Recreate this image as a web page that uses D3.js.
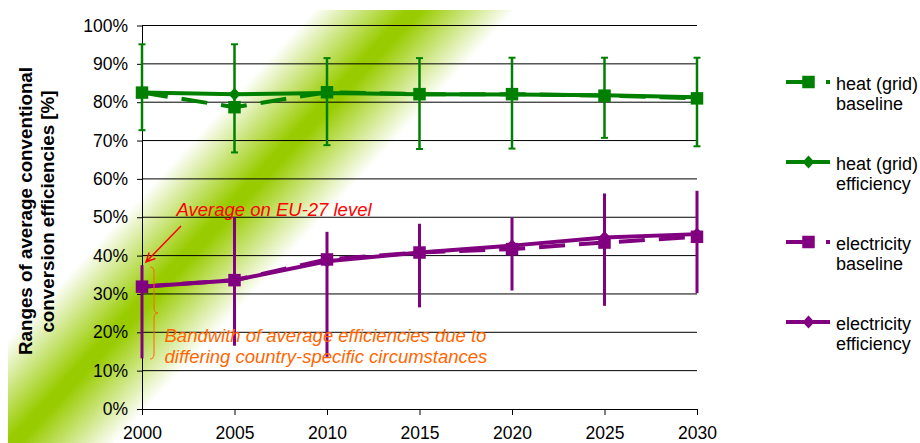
<!DOCTYPE html>
<html>
<head>
<meta charset="utf-8">
<script src="https://cdn.jsdelivr.net/npm/d3@7"></script>
<style>
  html, body { margin: 0; padding: 0; background: #fff; }
  svg { display: block; font-family: "Liberation Sans", Arial, sans-serif; }
</style>
</head>
<body>
<svg id="chart" width="920" height="443"></svg>
<script>
// Conversion efficiency ranges, EU-27 averages with country spread
const years = [2000, 2005, 2010, 2015, 2020, 2025, 2030];
const yTicks = [0, 10, 20, 30, 40, 50, 60, 70, 80, 90, 100];

const heatBaseline   = [82.5, 78.7, 82.6, 82.1, 82.1, 81.7, 81.0];
const heatEfficiency = [82.5, 82.1, 82.4, 82.1, 82.0, 81.8, 81.3];
const heatLow        = [72.7, 66.9, 68.8, 67.8, 67.9, 70.7, 68.5];
const heatHigh       = [95.1, 95.1, 91.5, 91.5, 91.6, 91.6, 91.6];

const elecBaseline   = [31.9, 33.6, 39.0, 40.8, 41.7, 43.4, 44.9];
const elecEfficiency = [31.9, 33.6, 38.5, 40.8, 42.6, 44.7, 45.6];
const elecLow        = [13.2, 16.5, 13.6, 26.5, 30.9, 26.9, 30.2];
const elecHigh       = [37.5, 50.1, 46.2, 48.3, 49.9, 56.2, 56.9];

const legendLabels = [
  ["heat (grid)", "baseline"],
  ["heat (grid)", "efficiency"],
  ["electricity", "baseline"],
  ["electricity", "efficiency"]
];

const GREEN = "#008000", PURPLE = "#800080";
const svg = d3.select("#chart");

const x = d3.scaleLinear().domain([2000, 2030]).range([142, 697]);
const y = d3.scaleLinear().domain([0, 100]).range([409, 25.5]);

// Diagonal green highlight band behind the plot
const defs = svg.append("defs");
const cx = 230, cy = 209.5, nx = 0.733, ny = 0.680, hw = 74;
const grad = defs.append("linearGradient")
  .attr("id", "band")
  .attr("gradientUnits", "userSpaceOnUse")
  .attr("x1", cx - hw * nx).attr("y1", cy - hw * ny)
  .attr("x2", cx + hw * nx).attr("y2", cy + hw * ny);
grad.append("stop").attr("offset", 0).attr("stop-color", "#ffffff");
grad.append("stop").attr("offset", 0.46).attr("stop-color", "#99cc00");
grad.append("stop").attr("offset", 0.54).attr("stop-color", "#99cc00");
grad.append("stop").attr("offset", 1).attr("stop-color", "#ffffff");
svg.append("rect")
  .attr("x", 8).attr("y", 10).attr("width", 600).attr("height", 433)
  .attr("fill", "url(#band)");

// Horizontal gridlines
svg.append("g").selectAll("line")
  .data(yTicks.filter(d => d > 0))
  .join("line")
  .attr("x1", x(2000)).attr("x2", x(2030))
  .attr("y1", d => y(d)).attr("y2", d => y(d))
  .attr("stroke", "#000").attr("stroke-width", 1);

// Axes
const yAxis = svg.append("g")
  .attr("transform", `translate(${x(2000)},0)`)
  .call(d3.axisLeft(y).tickValues(yTicks).tickFormat(d => d + "%")
    .tickSize(5).tickSizeOuter(0).tickPadding(9));
yAxis.selectAll("text").attr("font-size", 17.5).attr("fill", "#000")
  .attr("font-family", "'Liberation Sans', Arial, sans-serif");

const xAxis = svg.append("g")
  .attr("transform", `translate(0,${y(0)})`)
  .call(d3.axisBottom(x).tickValues(years).tickFormat(d3.format("d"))
    .tickSize(6).tickSizeOuter(0).tickPadding(12));
xAxis.selectAll("text").attr("font-size", 17.5).attr("fill", "#000")
  .attr("font-family", "'Liberation Sans', Arial, sans-serif");
svg.selectAll(".domain").attr("stroke", "#000");
svg.selectAll(".tick line").attr("stroke", "#000");

// Axis title
const yTitle = svg.append("g").attr("font-weight", "bold").attr("font-size", 18.8)
  .attr("text-anchor", "middle").attr("fill", "#000");
yTitle.append("text").attr("transform", "translate(32,211) rotate(-90)")
  .text("Ranges of average conventional");
yTitle.append("text").attr("transform", "translate(54,211.5) rotate(-90)")
  .text("conversion efficiencies [%]");

// Error bars
function errorBars(low, high, color, width, cap) {
  const g = svg.append("g").attr("stroke", color);
  years.forEach((yr, i) => {
    g.append("line")
      .attr("x1", x(yr)).attr("x2", x(yr))
      .attr("y1", y(low[i])).attr("y2", y(high[i]))
      .attr("stroke-width", width);
    if (cap) {
      [low[i], high[i]].forEach(v => {
        g.append("line")
          .attr("x1", x(yr) - cap / 2).attr("x2", x(yr) + cap / 2)
          .attr("y1", y(v)).attr("y2", y(v))
          .attr("stroke-width", 2);
      });
    }
  });
}
errorBars(heatLow, heatHigh, GREEN, 2.5, 7);
errorBars(elecLow, elecHigh, PURPLE, 3, 0);

// Series lines and markers
const line = d3.line().x((d, i) => x(years[i])).y(d => y(d));
const squareSym = d3.symbol().type(d3.symbolSquare).size(12.5 * 12.5);
const diamondPath = "M0,-6.5L6,0L0,6.5L-6,0Z";

function series(values, color, dashed, marker) {
  svg.append("path")
    .datum(values)
    .attr("d", line)
    .attr("fill", "none")
    .attr("stroke", color)
    .attr("stroke-width", 4)
    .attr("stroke-dasharray", dashed ? "26,14" : null);
  svg.append("g").selectAll("path")
    .data(values)
    .join("path")
    .attr("transform", (d, i) => `translate(${x(years[i])},${y(d)})`)
    .attr("d", marker === "square" ? squareSym() : diamondPath)
    .attr("fill", color);
}
series(heatBaseline, GREEN, true, "square");
series(heatEfficiency, GREEN, false, "diamond");
series(elecBaseline, PURPLE, true, "square");
series(elecEfficiency, PURPLE, false, "diamond");

// Legend
const legendStyles = [
  { color: GREEN, dashed: true, marker: "square" },
  { color: GREEN, dashed: false, marker: "diamond" },
  { color: PURPLE, dashed: true, marker: "square" },
  { color: PURPLE, dashed: false, marker: "diamond" }
];
legendLabels.forEach((lbl, i) => {
  const st = legendStyles[i];
  const g = svg.append("g").attr("transform", `translate(0,${80 * i})`);
  g.append("line")
    .attr("x1", 786).attr("x2", 830).attr("y1", 82).attr("y2", 82)
    .attr("stroke", st.color).attr("stroke-width", 4)
    .attr("stroke-dasharray", st.dashed ? "26,14" : null);
  g.append("path")
    .attr("transform", "translate(808.5,82)")
    .attr("d", st.marker === "square" ? squareSym() : diamondPath)
    .attr("fill", st.color);
  const t = g.append("text").attr("font-size", 18).attr("fill", "#000");
  t.append("tspan").attr("x", 836).attr("y", 90).text(lbl[0]);
  t.append("tspan").attr("x", 836).attr("y", 110).text(lbl[1]);
});

// Annotations
svg.append("text")
  .attr("x", 176.5).attr("y", 216)
  .attr("font-size", 18.5).attr("font-style", "italic").attr("fill", "#ff0000")
  .text("Average on EU-27 level");

const ax1 = 181, ay1 = 226, ax2 = 146, ay2 = 262;
const ang = Math.atan2(ay2 - ay1, ax2 - ax1);
const head = 10, spread = 0.45;
svg.append("path")
  .attr("d", `M${ax1},${ay1}L${ax2},${ay2}` +
    `M${ax2 - head * Math.cos(ang - spread)},${ay2 - head * Math.sin(ang - spread)}` +
    `L${ax2},${ay2}` +
    `L${ax2 - head * Math.cos(ang + spread)},${ay2 - head * Math.sin(ang + spread)}`)
  .attr("fill", "none").attr("stroke", "#ff0000").attr("stroke-width", 1.5);

// Curly brace marking the country spread
svg.append("path")
  .attr("d", "M150,267 Q154,267 154,272 L154,308 Q154,313 158,313 Q154,313 154,318 L154,354 Q154,359 150,359")
  .attr("fill", "none").attr("stroke", "#ff6600").attr("stroke-width", 1);

const note = svg.append("text")
  .attr("font-size", 18.5).attr("font-style", "italic").attr("fill", "#ff6600");
note.append("tspan").attr("x", 164.5).attr("y", 341.5)
  .text("Bandwith of average efficiencies due to");
note.append("tspan").attr("x", 164.5).attr("y", 363)
  .text("differing country-specific circumstances");
</script>
</body>
</html>
